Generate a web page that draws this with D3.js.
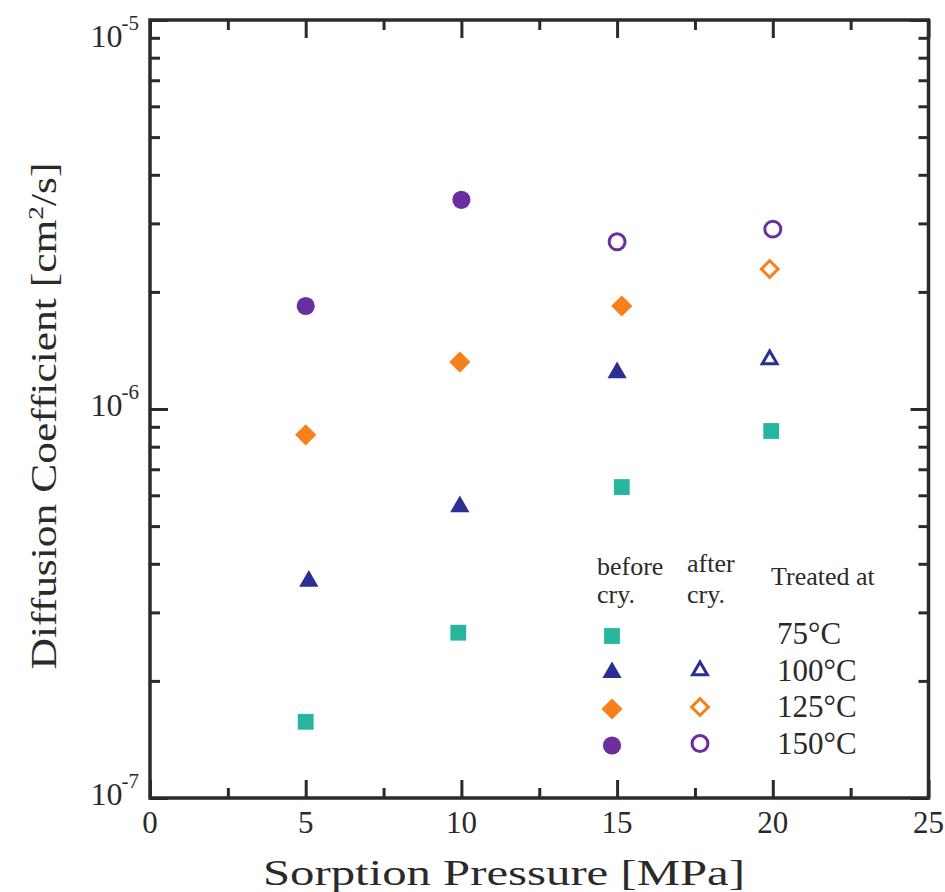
<!DOCTYPE html>
<html>
<head>
<meta charset="utf-8">
<script src="https://cdn.jsdelivr.net/npm/d3@7"></script>
<style>
  body { margin: 0; background: white; }
  svg text { font-family: "Liberation Serif", "Times New Roman", serif; fill: #2a2a2a; }
</style>
</head>
<body>
<div id="canvas-div"></div>
<script>
// data: sorption pressure [MPa] and diffusion coefficient [cm2/s]
const p75 = [5.0, 9.9, 15.15, 19.95];
const d75 = [1.57e-7, 2.66e-7, 6.30e-7, 8.78e-7];

const p100Before = [5.1, 9.95, 15.0];
const d100Before = [3.61e-7, 5.61e-7, 1.24e-6];
const p100After = [19.9];
const d100After = [1.34e-6];

const p125Before = [5.0, 9.95, 15.15];
const d125Before = [8.58e-7, 1.32e-6, 1.84e-6];
const p125After = [19.9];
const d125After = [2.29e-6];

const p150Before = [5.0, 10.0];
const d150Before = [1.84e-6, 3.45e-6];
const p150After = [15.0, 20.0];
const d150After = [2.69e-6, 2.90e-6];

const xMajorTicks = [0, 5, 10, 15, 20, 25];
const xMinorTicks = [2.5, 7.5, 12.5, 17.5, 22.5];
const yMajorTicks = [1e-7, 1e-6, 1e-5];
const yExponents = ["-7", "-6", "-5"];
const temps = ["75°C", "100°C", "125°C", "150°C"];

const width = 945;
const height = 892;
const padding = { left: 150, right: 16, top: 20, bottom: 94 };

const colors = {
    t75: "#27b59e",
    t100: "#2b2e92",
    t125: "#f7801b",
    t150: "#6b2e9f"
};

// marker shapes, keyed by temperature
const shapes = {
    t75: { type: d3.symbolSquare, size: 250, rotate: 0 },
    t100: { type: d3.symbolTriangle, size: 160, rotate: 0 },
    t125: { type: d3.symbolSquare, size: 225, rotate: 45 },
    t150: { type: d3.symbolCircle, size: 260, rotate: 0 }
};
const openShapes = {
    t100: { type: d3.symbolTriangle, size: 95, rotate: 0 },
    t125: { type: d3.symbolSquare, size: 140, rotate: 45 },
    t150: { type: d3.symbolCircle, size: 200, rotate: 0 }
};

const series = [
    { key: "t75", p: p75, d: d75, open: false },
    { key: "t100", p: p100Before, d: d100Before, open: false },
    { key: "t100", p: p100After, d: d100After, open: true },
    { key: "t125", p: p125Before, d: d125Before, open: false },
    { key: "t125", p: p125After, d: d125After, open: true },
    { key: "t150", p: p150Before, d: d150Before, open: false },
    { key: "t150", p: p150After, d: d150After, open: true }
];

const svg = d3.select("#canvas-div")
    .append("svg")
    .attr("width", width)
    .attr("height", height)
    .style("background-color", "white");

const xScale = d3.scaleLinear()
    .domain([0, 25])
    .range([padding.left, width - padding.right - 0.5]);

const yScale = d3.scaleLog()
    .domain([1e-7, 1e-5])
    .range([height - padding.bottom, padding.top]);

const yMinorTicks = [];
[1e-7, 1e-6].forEach(base => {
    for (let k = 2; k <= 9; k++) yMinorTicks.push(base * k);
});

const plotBottom = yScale(1e-7);
const plotTop = yScale(1e-5);
const plotLeft = xScale(0);
const plotRight = xScale(25);

function drawAxis(axis, transform) {
    const g = svg.append("g")
        .attr("class", "axis")
        .attr("transform", transform)
        .call(axis);
    g.select(".domain").remove();
    g.selectAll(".tick line")
        .attr("stroke", "#2a2a2a")
        .attr("stroke-width", 3);
    return g;
}

//x axes, ticks point inward
drawAxis(d3.axisBottom(xScale).tickValues(xMajorTicks).tickSize(-18).tickFormat(""),
    "translate(0," + plotBottom + ")");
drawAxis(d3.axisBottom(xScale).tickValues(xMinorTicks).tickSize(-10).tickFormat(""),
    "translate(0," + plotBottom + ")");
drawAxis(d3.axisTop(xScale).tickValues(xMajorTicks).tickSize(-18).tickFormat(""),
    "translate(0," + plotTop + ")");
drawAxis(d3.axisTop(xScale).tickValues(xMinorTicks).tickSize(-10).tickFormat(""),
    "translate(0," + plotTop + ")");

//y axes
drawAxis(d3.axisLeft(yScale).tickValues(yMajorTicks).tickSize(-18).tickFormat(""),
    "translate(" + plotLeft + ",0)");
drawAxis(d3.axisLeft(yScale).tickValues(yMinorTicks).tickSize(-10).tickFormat(""),
    "translate(" + plotLeft + ",0)");
drawAxis(d3.axisRight(yScale).tickValues(yMajorTicks).tickSize(-18).tickFormat(""),
    "translate(" + plotRight + ",0)");
drawAxis(d3.axisRight(yScale).tickValues(yMinorTicks).tickSize(-10).tickFormat(""),
    "translate(" + plotRight + ",0)");

//frame
svg.append("rect")
    .attr("x", plotLeft)
    .attr("y", plotTop)
    .attr("width", plotRight - plotLeft)
    .attr("height", plotBottom - plotTop)
    .attr("fill", "none")
    .attr("stroke", "#2a2a2a")
    .attr("stroke-width", 3.5);

//x tick labels
svg.selectAll(".x-label")
    .data(xMajorTicks)
    .enter()
    .append("text")
    .attr("class", "x-label")
    .attr("x", d => xScale(d))
    .attr("y", plotBottom + 35)
    .attr("text-anchor", "middle")
    .attr("font-size", 31)
    .text(d => d);

//y tick labels 10^n
const yLabels = svg.selectAll(".y-label")
    .data(yMajorTicks)
    .enter()
    .append("text")
    .attr("class", "y-label")
    .attr("x", plotLeft - 11)
    .attr("y", d => Math.max(yScale(d) + 7, plotTop + 27))
    .attr("text-anchor", "end")
    .attr("font-size", 32);
yLabels.append("tspan").text("10");
yLabels.append("tspan")
    .attr("dy", -17)
    .attr("dx", -1)
    .attr("font-size", 21)
    .text((d, i) => yExponents[i]);

//axis titles
svg.append("text")
    .attr("x", 504)
    .attr("y", 885)
    .attr("text-anchor", "middle")
    .attr("font-size", 35)
    .attr("textLength", 482)
    .attr("lengthAdjust", "spacingAndGlyphs")
    .text("Sorption Pressure [MPa]");

const yTitle = svg.append("text")
    .attr("transform", "translate(56,416) rotate(-90)")
    .attr("text-anchor", "middle")
    .attr("font-size", 35)
    .attr("textLength", 507)
    .attr("lengthAdjust", "spacingAndGlyphs");
yTitle.append("tspan").text("Diffusion Coefficient [cm");
yTitle.append("tspan").attr("dy", -13).attr("font-size", 22).text("2");
yTitle.append("tspan").attr("dy", 13).text("/s]");

//points
function symbolPath(shape) {
    return d3.symbol().type(shape.type).size(shape.size)();
}

series.forEach(s => {
    const shape = s.open ? openShapes[s.key] : shapes[s.key];
    const pts = s.p.map((p, i) => ({ p: p, d: s.d[i] }));
    svg.selectAll(null)
        .data(pts)
        .enter()
        .append("path")
        .attr("class", "point")
        .attr("d", symbolPath(shape))
        .attr("transform", d => "translate(" + xScale(d.p) + "," + yScale(d.d) + ") rotate(" + shape.rotate + ")")
        .attr("fill", s.open ? "white" : colors[s.key])
        .attr("stroke", s.open ? colors[s.key] : "none")
        .attr("stroke-width", s.open ? 3 : 0);
});

//legend
const legend = svg.append("g").attr("class", "legend");
const legendX = { before: 612, after: 700, text: 777 };

legend.append("text").attr("x", 597).attr("y", 575).attr("font-size", 26).text("before");
legend.append("text").attr("x", 597).attr("y", 603).attr("font-size", 26).text("cry.");
legend.append("text").attr("x", 687).attr("y", 572).attr("font-size", 26).text("after");
legend.append("text").attr("x", 687).attr("y", 603).attr("font-size", 26).text("cry.");
legend.append("text").attr("x", 771).attr("y", 585).attr("font-size", 26).text("Treated at");

const keys = ["t75", "t100", "t125", "t150"];
keys.forEach((k, i) => {
    const rowY = 636 + 36.5 * i;
    legend.append("path")
        .attr("d", symbolPath(shapes[k]))
        .attr("transform", "translate(" + legendX.before + "," + rowY + ") rotate(" + shapes[k].rotate + ")")
        .attr("fill", colors[k]);
    if (openShapes[k]) {
        legend.append("path")
            .attr("d", symbolPath(openShapes[k]))
            .attr("transform", "translate(" + legendX.after + "," + (rowY - 2) + ") rotate(" + openShapes[k].rotate + ")")
            .attr("fill", "white")
            .attr("stroke", colors[k])
            .attr("stroke-width", 3);
    }
    legend.append("text")
        .attr("x", legendX.text)
        .attr("y", rowY + 8)
        .attr("font-size", 31)
        .text(temps[i]);
});
</script>
</body>
</html>
